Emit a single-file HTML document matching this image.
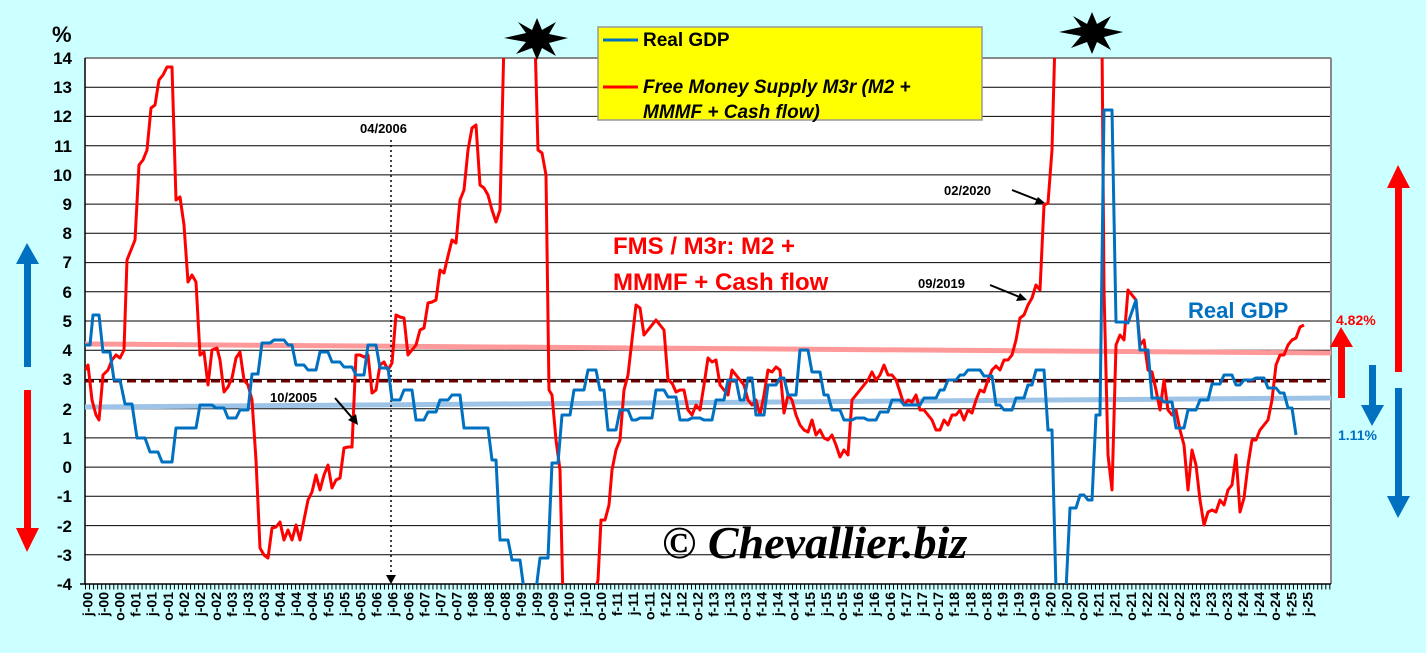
<!DOCTYPE html><html><head><meta charset="utf-8"><style>body{margin:0;background:#ccffff;}svg{display:block;font-family:"Liberation Sans",sans-serif;}</style></head><body>
<svg width="1426" height="653" viewBox="0 0 1426 653" xmlns="http://www.w3.org/2000/svg">
<rect width="1426" height="653" fill="#ccffff"/>
<rect x="85" y="58" width="1246" height="526" fill="#fff"/>
<g stroke="#000" stroke-width="1">
<line x1="85" x2="1331" y1="87.2" y2="87.2"/><line x1="85" x2="1331" y1="116.4" y2="116.4"/><line x1="85" x2="1331" y1="145.7" y2="145.7"/><line x1="85" x2="1331" y1="174.9" y2="174.9"/><line x1="85" x2="1331" y1="204.1" y2="204.1"/><line x1="85" x2="1331" y1="233.3" y2="233.3"/><line x1="85" x2="1331" y1="262.6" y2="262.6"/><line x1="85" x2="1331" y1="291.8" y2="291.8"/><line x1="85" x2="1331" y1="321" y2="321"/><line x1="85" x2="1331" y1="350.2" y2="350.2"/><line x1="85" x2="1331" y1="379.4" y2="379.4"/><line x1="85" x2="1331" y1="408.7" y2="408.7"/><line x1="85" x2="1331" y1="437.9" y2="437.9"/><line x1="85" x2="1331" y1="467.1" y2="467.1"/><line x1="85" x2="1331" y1="496.3" y2="496.3"/><line x1="85" x2="1331" y1="525.6" y2="525.6"/><line x1="85" x2="1331" y1="554.8" y2="554.8"/>
</g>
<line x1="85" y1="58" x2="1331" y2="58" stroke="#888" stroke-width="2"/>
<line x1="1331" y1="58" x2="1331" y2="584" stroke="#888" stroke-width="2"/>
<line x1="85" y1="58" x2="85" y2="584" stroke="#000" stroke-width="1.5"/>
<line x1="80" y1="584" x2="1331" y2="584" stroke="#000" stroke-width="1.5"/>
<line x1="85" y1="587" x2="1331" y2="587" stroke="#000" stroke-width="5" stroke-dasharray="1,3.04"/>
<g font-size="17" font-weight="bold" text-anchor="end">
<text x="72" y="64">14</text><text x="72" y="93">13</text><text x="72" y="122">12</text><text x="72" y="152">11</text><text x="72" y="181">10</text><text x="72" y="210">9</text><text x="72" y="239">8</text><text x="72" y="268">7</text><text x="72" y="298">6</text><text x="72" y="327">5</text><text x="72" y="356">4</text><text x="72" y="385">3</text><text x="72" y="415">2</text><text x="72" y="444">1</text><text x="72" y="473">0</text><text x="72" y="502">-1</text><text x="72" y="532">-2</text><text x="72" y="561">-3</text><text x="72" y="590">-4</text>
</g>
<text x="52" y="42" font-size="22" font-weight="bold">%</text>
<g font-size="14" font-weight="bold" text-anchor="end">
<text transform="translate(92.5,592) rotate(-90)">j-00</text>
<text transform="translate(108.55,592) rotate(-90)">j-00</text>
<text transform="translate(124.6,592) rotate(-90)">o-00</text>
<text transform="translate(140.65,592) rotate(-90)">f-01</text>
<text transform="translate(156.7,592) rotate(-90)">j-01</text>
<text transform="translate(172.75,592) rotate(-90)">o-01</text>
<text transform="translate(188.8,592) rotate(-90)">f-02</text>
<text transform="translate(204.85,592) rotate(-90)">j-02</text>
<text transform="translate(220.9,592) rotate(-90)">o-02</text>
<text transform="translate(236.95,592) rotate(-90)">f-03</text>
<text transform="translate(253,592) rotate(-90)">j-03</text>
<text transform="translate(269.05,592) rotate(-90)">o-03</text>
<text transform="translate(285.1,592) rotate(-90)">f-04</text>
<text transform="translate(301.15,592) rotate(-90)">j-04</text>
<text transform="translate(317.2,592) rotate(-90)">o-04</text>
<text transform="translate(333.25,592) rotate(-90)">f-05</text>
<text transform="translate(349.3,592) rotate(-90)">j-05</text>
<text transform="translate(365.35,592) rotate(-90)">o-05</text>
<text transform="translate(381.4,592) rotate(-90)">f-06</text>
<text transform="translate(397.45,592) rotate(-90)">j-06</text>
<text transform="translate(413.5,592) rotate(-90)">o-06</text>
<text transform="translate(429.55,592) rotate(-90)">f-07</text>
<text transform="translate(445.6,592) rotate(-90)">j-07</text>
<text transform="translate(461.65,592) rotate(-90)">o-07</text>
<text transform="translate(477.7,592) rotate(-90)">f-08</text>
<text transform="translate(493.75,592) rotate(-90)">j-08</text>
<text transform="translate(509.8,592) rotate(-90)">o-08</text>
<text transform="translate(525.85,592) rotate(-90)">f-09</text>
<text transform="translate(541.9,592) rotate(-90)">j-09</text>
<text transform="translate(557.95,592) rotate(-90)">o-09</text>
<text transform="translate(574,592) rotate(-90)">f-10</text>
<text transform="translate(590.05,592) rotate(-90)">j-10</text>
<text transform="translate(606.1,592) rotate(-90)">o-10</text>
<text transform="translate(622.15,592) rotate(-90)">f-11</text>
<text transform="translate(638.2,592) rotate(-90)">j-11</text>
<text transform="translate(654.25,592) rotate(-90)">o-11</text>
<text transform="translate(670.3,592) rotate(-90)">f-12</text>
<text transform="translate(686.35,592) rotate(-90)">j-12</text>
<text transform="translate(702.4,592) rotate(-90)">o-12</text>
<text transform="translate(718.45,592) rotate(-90)">f-13</text>
<text transform="translate(734.5,592) rotate(-90)">j-13</text>
<text transform="translate(750.55,592) rotate(-90)">o-13</text>
<text transform="translate(766.6,592) rotate(-90)">f-14</text>
<text transform="translate(782.65,592) rotate(-90)">j-14</text>
<text transform="translate(798.7,592) rotate(-90)">o-14</text>
<text transform="translate(814.75,592) rotate(-90)">f-15</text>
<text transform="translate(830.8,592) rotate(-90)">j-15</text>
<text transform="translate(846.85,592) rotate(-90)">o-15</text>
<text transform="translate(862.9,592) rotate(-90)">f-16</text>
<text transform="translate(878.95,592) rotate(-90)">j-16</text>
<text transform="translate(895,592) rotate(-90)">o-16</text>
<text transform="translate(911.05,592) rotate(-90)">f-17</text>
<text transform="translate(927.1,592) rotate(-90)">j-17</text>
<text transform="translate(943.15,592) rotate(-90)">o-17</text>
<text transform="translate(959.2,592) rotate(-90)">f-18</text>
<text transform="translate(975.25,592) rotate(-90)">j-18</text>
<text transform="translate(991.3,592) rotate(-90)">o-18</text>
<text transform="translate(1007.35,592) rotate(-90)">f-19</text>
<text transform="translate(1023.4,592) rotate(-90)">j-19</text>
<text transform="translate(1039.45,592) rotate(-90)">o-19</text>
<text transform="translate(1055.5,592) rotate(-90)">f-20</text>
<text transform="translate(1071.55,592) rotate(-90)">j-20</text>
<text transform="translate(1087.6,592) rotate(-90)">o-20</text>
<text transform="translate(1103.65,592) rotate(-90)">f-21</text>
<text transform="translate(1119.7,592) rotate(-90)">j-21</text>
<text transform="translate(1135.75,592) rotate(-90)">o-21</text>
<text transform="translate(1151.8,592) rotate(-90)">f-22</text>
<text transform="translate(1167.85,592) rotate(-90)">j-22</text>
<text transform="translate(1183.9,592) rotate(-90)">o-22</text>
<text transform="translate(1199.95,592) rotate(-90)">f-23</text>
<text transform="translate(1216,592) rotate(-90)">j-23</text>
<text transform="translate(1232.05,592) rotate(-90)">o-23</text>
<text transform="translate(1248.1,592) rotate(-90)">f-24</text>
<text transform="translate(1264.15,592) rotate(-90)">j-24</text>
<text transform="translate(1280.2,592) rotate(-90)">o-24</text>
<text transform="translate(1296.25,592) rotate(-90)">f-25</text>
<text transform="translate(1312.3,592) rotate(-90)">j-25</text>
</g>
<line x1="85" y1="344" x2="1331" y2="353" stroke="#ff9999" stroke-width="5"/>
<line x1="85" y1="407" x2="1331" y2="398" stroke="#9dc3e6" stroke-width="5"/>
<line x1="85" y1="381" x2="1331" y2="381" stroke="#6b0000" stroke-width="3" stroke-dasharray="9,5"/>
<line x1="391" y1="140" x2="391" y2="576" stroke="#000" stroke-width="1.5" stroke-dasharray="2,3"/>
<polygon points="386,575 396,575 391,584" fill="#000"/>
<svg x="85" y="58" width="1246" height="526" viewBox="85 58 1246 526" overflow="hidden">
<polyline fill="none" stroke="#ff0000" stroke-width="3" stroke-linejoin="round" points="85,370 88,365 92,400 96,415 99,420 103,375 108,370 112,360 116,355 120,358 124,350 127,260 131,250 135,240 139,165 143,160 147,150 151,108 155,105 159,80 163,75 167,67 172,67 176,200 180,197 184,225 188,282 192,275 196,282 200,355 204,352 208,385 212,350 217,348 220,360 224,392 228,387 232,378 236,358 240,352 244,380 248,385 252,400 256,460 260,548 264,555 268,558 272,528 276,527 280,522 284,540 288,530 292,540 296,525 300,540 304,520 308,500 312,492 316,475 320,490 324,475 328,465 332,488 336,480 340,478 344,448 348,447 352,447 356,355 360,355 364,357 368,355 372,393 376,390 380,365 384,362 388,370 392,363 396,315 400,317 404,318 408,355 412,350 416,345 420,330 424,328 428,303 432,302 436,300 440,270 444,273 448,256 452,240 456,243 460,200 464,190 468,150 472,128 476,125 480,185 484,188 488,195 492,210 496,222 500,210 504,40 535,40 538,150 542,153 546,175 549,390 552,395 556,440 560,470 563,600 593,600 598,580 601,520 605,520 609,505 612,470 616,450 620,440 624,390 628,375 632,340 636,305 640,308 644,335 648,330 652,325 656,320 660,325 664,330 668,380 672,383 676,392 680,390 684,390 688,410 692,415 696,405 700,410 704,385 708,358 712,362 716,360 720,385 724,390 728,395 732,370 736,375 740,380 744,385 748,400 752,405 756,400 760,415 764,395 768,370 772,372 776,367 780,370 784,413 788,395 792,400 796,415 800,425 804,430 808,432 812,420 816,435 820,430 824,438 828,440 832,435 836,445 840,457 844,450 848,455 852,400 856,395 860,390 864,385 868,380 872,372 876,380 880,375 884,365 888,375 892,375 896,380 900,392 904,405 908,400 912,402 916,395 920,410 924,410 928,415 932,420 936,430 940,430 944,420 948,425 952,415 956,415 960,410 964,420 968,410 972,413 976,400 980,390 984,392 988,380 992,370 996,366 1000,370 1004,360 1008,360 1012,355 1016,340 1020,318 1024,315 1028,305 1032,298 1036,285 1040,290 1044,205 1048,203 1052,150 1055,40 1102,40 1104,290 1108,455 1112,490 1116,345 1120,335 1124,340 1128,290 1132,295 1136,300 1140,345 1144,340 1148,370 1152,372 1156,390 1160,410 1164,380 1168,410 1172,415 1176,410 1180,430 1184,445 1188,490 1192,450 1196,465 1200,500 1204,525 1208,512 1212,510 1216,512 1220,500 1224,505 1228,490 1232,485 1236,455 1240,512 1244,498 1248,465 1252,440 1256,440 1260,430 1264,425 1268,420 1272,400 1276,365 1280,355 1284,355 1288,345 1292,340 1296,338 1300,327 1304,325"/>
<polyline fill="none" stroke="#0070c0" stroke-width="3" stroke-linejoin="round" points="85,345 90,345 93,315 99,315 103,352 110,352 114,380 120,380 125,404 132,404 137,438 145,438 150,452 158,452 162,462 172,462 176,428 196,428 200,405 212,405 216,408 224,408 228,418 236,418 240,410 248,410 252,374 258,374 262,343 270,343 274,340 284,340 288,345 292,345 296,365 304,365 308,370 316,370 320,352 328,352 332,362 340,362 344,367 352,367 356,375 364,375 368,345 376,345 380,368 388,368 392,400 400,400 404,390 412,390 416,420 424,420 428,412 436,412 440,400 448,400 452,395 460,395 464,428 488,428 492,460 496,460 500,540 508,540 512,560 520,560 524,590 536,590 540,558 548,558 552,463 558,463 562,415 570,415 574,390 584,390 588,370 596,370 600,390 604,390 608,430 616,430 620,410 628,410 632,420 636,420 640,418 652,418 656,390 664,390 668,397 676,397 680,420 688,420 692,418 700,418 704,420 712,420 716,400 724,400 728,380 736,380 740,400 744,400 748,378 752,378 756,415 764,415 768,385 776,385 780,378 784,378 788,395 796,395 800,350 808,350 812,372 820,372 824,395 828,395 832,410 840,410 844,420 852,420 856,418 864,418 868,420 876,420 880,412 888,412 892,400 900,400 904,405 920,405 924,398 936,398 940,390 944,390 948,380 956,380 960,375 964,375 968,370 980,370 984,376 992,376 996,405 1000,405 1004,410 1012,410 1016,398 1024,398 1028,385 1032,385 1036,370 1044,370 1048,430 1052,430 1056,590 1066,590 1070,508 1076,508 1080,495 1084,495 1088,500 1092,500 1096,415 1100,415 1104,110 1112,110 1116,322 1124,322 1128,323 1136,300 1140,350 1148,350 1152,398 1160,398 1164,402 1172,402 1176,428 1184,428 1188,410 1196,410 1200,400 1208,400 1212,384 1220,384 1224,375 1232,375 1236,385 1240,385 1244,380 1252,380 1256,378 1264,378 1268,388 1276,388 1280,393 1284,393 1288,408 1292,408 1296,435"/>
</svg>
<polygon points="537,18 542,30 556,22 549,34 568,38 549,43 556,56 542,48 537,60 532,48 516,54 526,42 504,38 526,33 518,22 532,30" fill="#000"/>
<polygon points="1092,12 1097,24 1111,16 1104,28 1123,32 1104,37 1111,50 1097,42 1092,54 1087,42 1071,48 1081,36 1059,32 1081,27 1073,16 1087,24" fill="#000"/>
<rect x="598" y="27" width="384" height="93" fill="#ffff00" stroke="#999" stroke-width="1.5"/>
<line x1="603" y1="40" x2="638" y2="40" stroke="#0070c0" stroke-width="3"/>
<text x="643" y="46" font-size="19" font-weight="bold">Real GDP</text>
<line x1="603" y1="87" x2="638" y2="87" stroke="#ff0000" stroke-width="3"/>
<text x="643" y="93" font-size="19" font-weight="bold" font-style="italic">Free Money Supply M3r (M2 +</text>
<text x="643" y="118" font-size="19" font-weight="bold" font-style="italic">MMMF + Cash flow)</text>
<text x="613" y="254" font-size="24" font-weight="bold" fill="#ff0000">FMS / M3r: M2 +</text>
<text x="613" y="290" font-size="24" font-weight="bold" fill="#ff0000">MMMF + Cash flow</text>
<text x="1188" y="318" font-size="22" font-weight="bold" fill="#0070c0">Real GDP</text>
<text x="1336" y="325" font-size="14" font-weight="bold" fill="#ff0000">4.82%</text>
<text x="1338" y="440" font-size="14" font-weight="bold" fill="#0070c0">1.11%</text>
<g font-size="13" font-weight="bold">
<text x="360" y="133">04/2006</text>
<text x="270" y="402">10/2005</text>
<text x="944" y="195">02/2020</text>
<text x="918" y="288">09/2019</text>
</g>
<g stroke="#000" stroke-width="2">
<line x1="335" y1="398" x2="354" y2="420"/><line x1="1012" y1="190" x2="1040" y2="201"/><line x1="990" y1="285" x2="1022" y2="298"/>
</g>
<polygon points="358,425 348,420 356,414" fill="#000"/><polygon points="1045,203 1034,205 1038,197" fill="#000"/><polygon points="1027,300 1016,301 1020,293" fill="#000"/>
<text x="662" y="558" font-size="46" font-weight="bold" font-style="italic" font-family="Liberation Serif,serif">© Chevallier.biz</text>
<g>
<rect x="24" y="262" width="7" height="105" fill="#0070c0"/><polygon points="16,264 39,264 27,243" fill="#0070c0"/>
<rect x="24" y="390" width="7" height="140" fill="#ff0000"/><polygon points="16,528 39,528 27,552" fill="#ff0000"/>
<rect x="1395" y="186" width="7" height="186" fill="#ff0000"/><polygon points="1387,188 1410,188 1398,165" fill="#ff0000"/>
<rect x="1395" y="388" width="7" height="110" fill="#0070c0"/><polygon points="1387,496 1410,496 1398,518" fill="#0070c0"/>
<rect x="1338" y="345" width="7" height="53" fill="#ff0000"/><polygon points="1330,347 1353,347 1341,327" fill="#ff0000"/>
<rect x="1369" y="365" width="7" height="42" fill="#0070c0"/><polygon points="1361,405 1384,405 1372,426" fill="#0070c0"/>
</g>
</svg>
</body></html>
